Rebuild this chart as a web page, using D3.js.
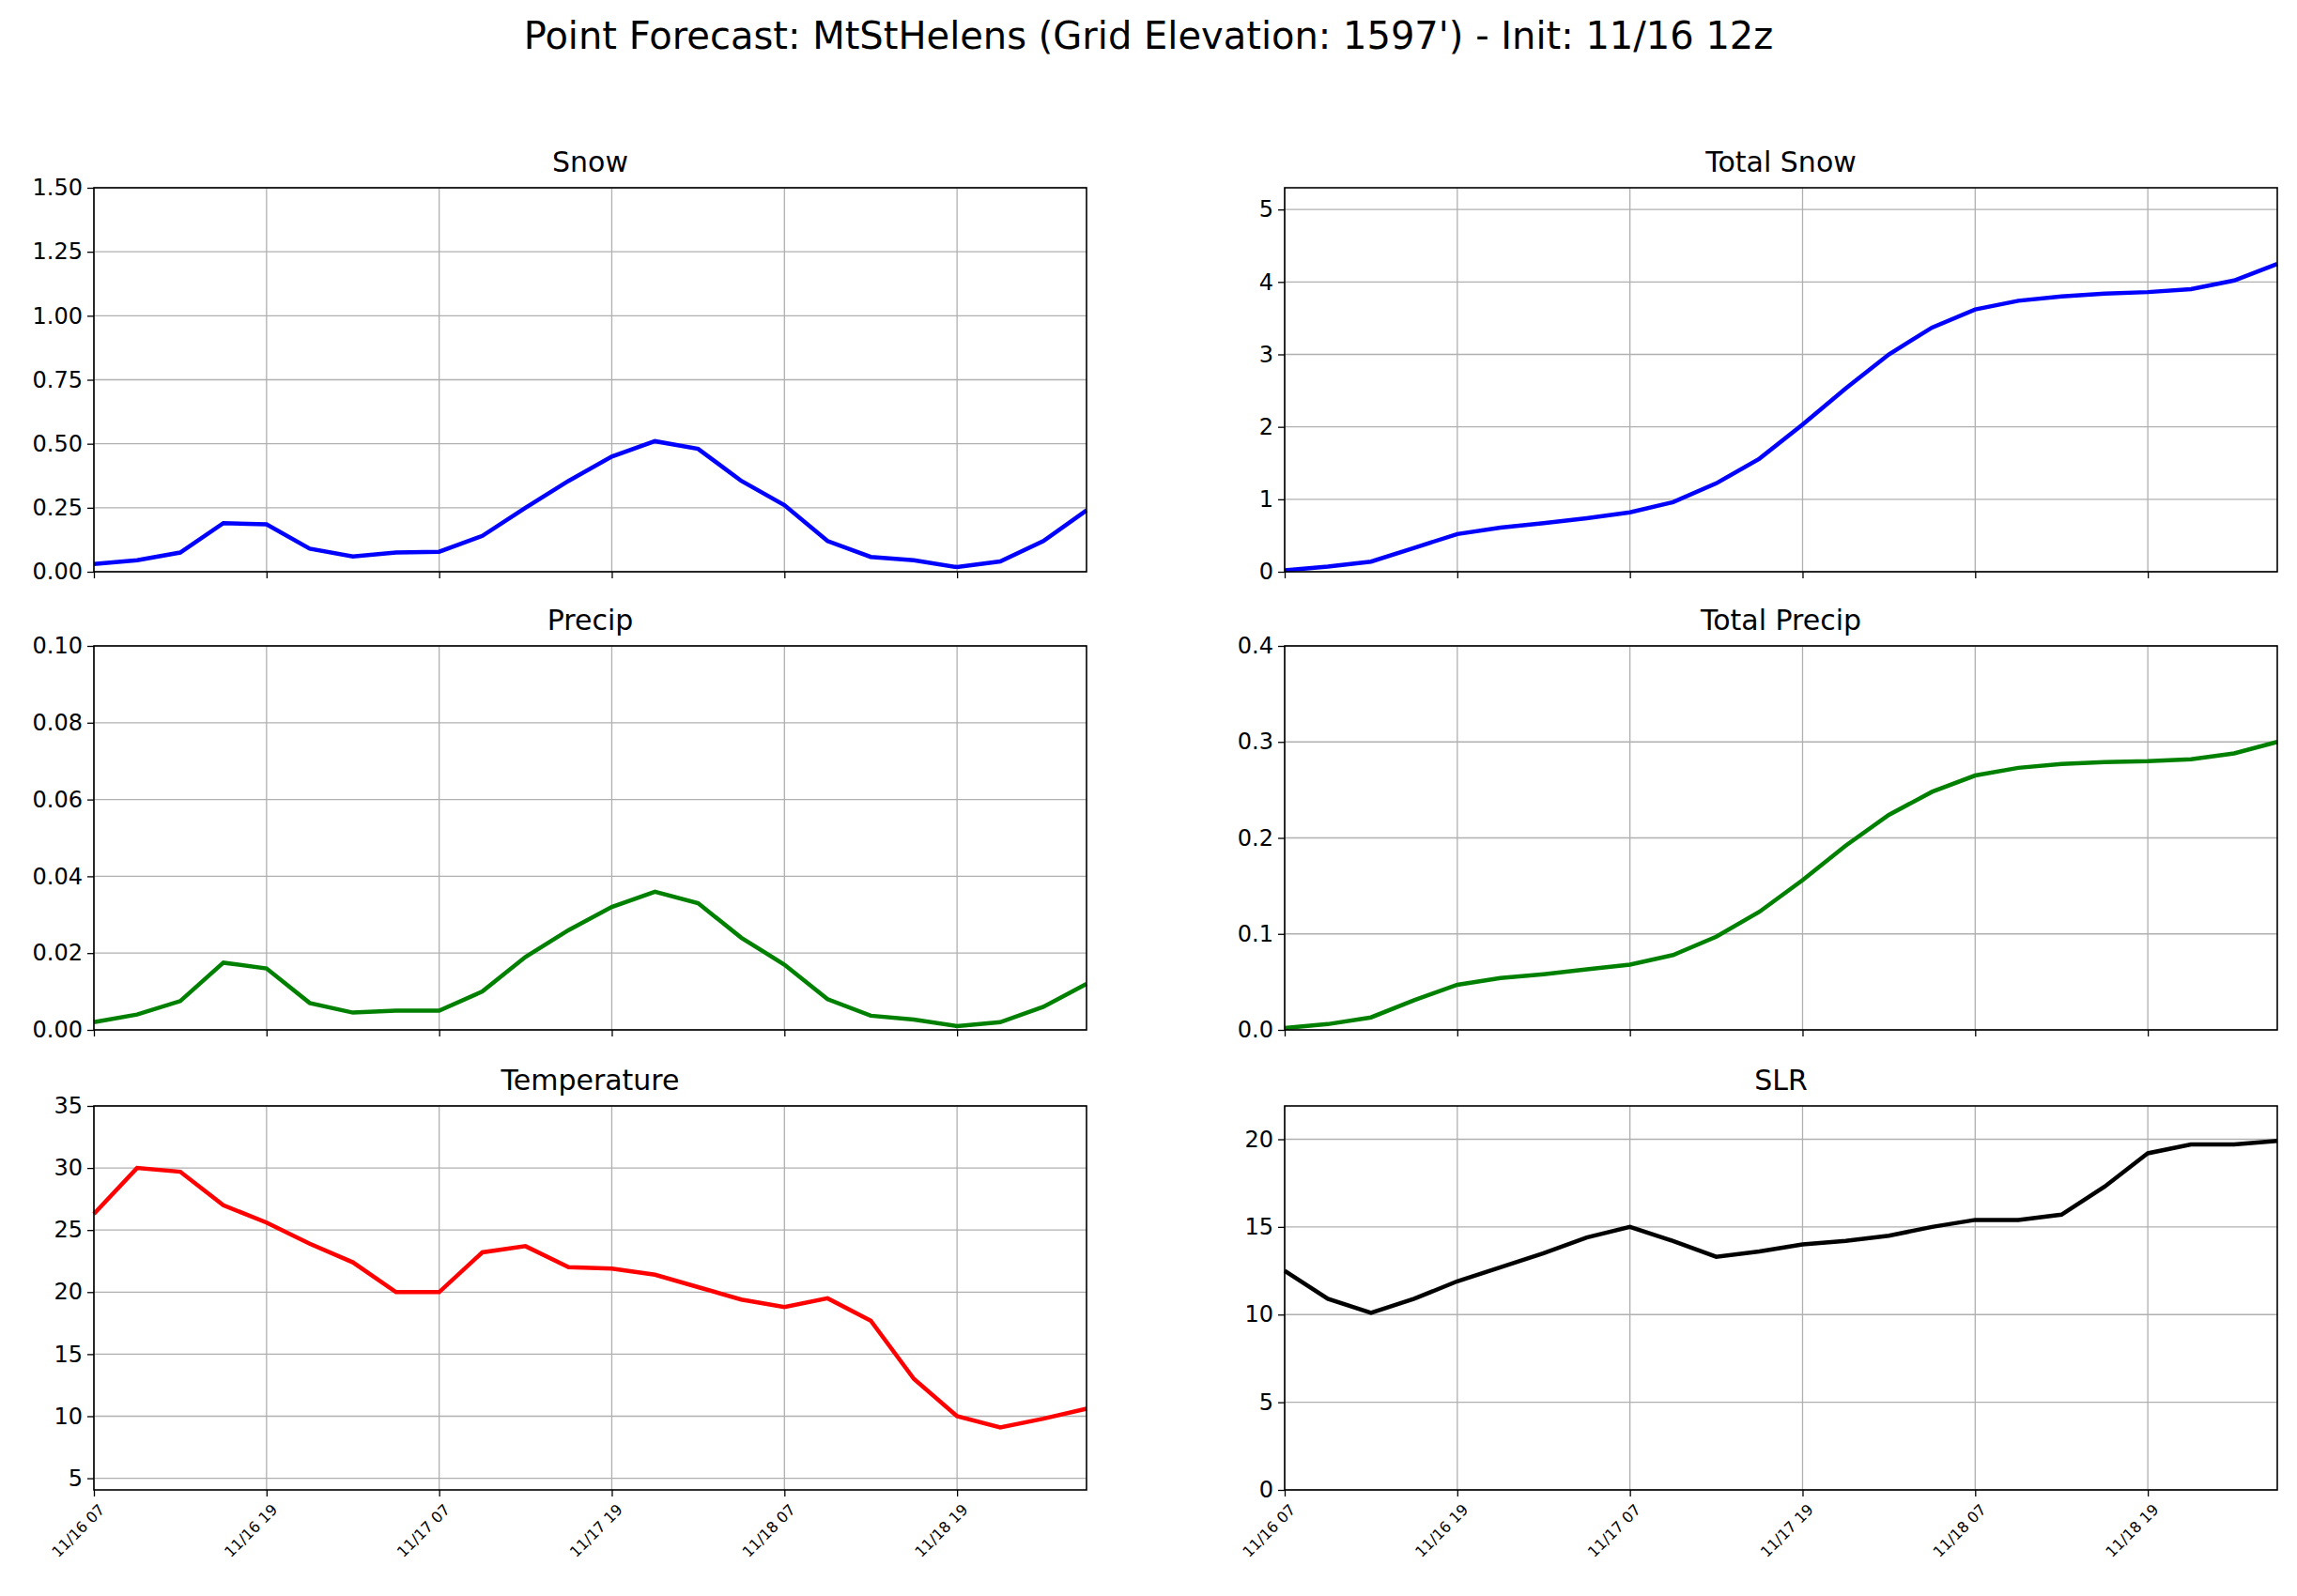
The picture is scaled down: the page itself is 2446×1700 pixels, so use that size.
<!DOCTYPE html>
<html><head><meta charset="utf-8">
<script src="https://cdn.jsdelivr.net/npm/d3@7"></script>
<style>body{margin:0;background:#fff}</style>
</head><body>
<script>
// 3-hourly points from 11/16 07 local
const startTime = new Date(2023, 10, 16, 7);
const hours = d3.range(24).map(i => i * 3);
const snow = [0.03,0.045,0.075,0.19,0.185,0.09,0.06,0.075,0.078,0.14,0.25,0.355,0.45,0.51,0.48,0.355,0.26,0.12,0.058,0.045,0.018,0.04,0.12,0.24];
const totalSnow = [0.02,0.07,0.14,0.33,0.52,0.61,0.67,0.74,0.82,0.96,1.22,1.56,2.03,2.53,3.0,3.37,3.62,3.74,3.80,3.84,3.86,3.90,4.02,4.25];
const precip = [0.002,0.004,0.0075,0.0175,0.016,0.007,0.0045,0.005,0.005,0.010,0.019,0.026,0.032,0.036,0.033,0.024,0.017,0.008,0.0037,0.0027,0.001,0.002,0.006,0.012];
const totalPrecip = [0.002,0.006,0.013,0.031,0.047,0.054,0.058,0.063,0.068,0.078,0.097,0.123,0.156,0.192,0.224,0.248,0.265,0.273,0.277,0.279,0.280,0.282,0.288,0.300];
const temperature = [26.3,30,29.7,27,25.6,23.9,22.4,20,20,23.2,23.7,22,21.9,21.4,20.4,19.4,18.8,19.5,17.7,13,10,9.1,9.8,10.6];
const slr = [12.5,10.9,10.1,10.9,11.9,12.7,13.5,14.4,15.0,14.2,13.3,13.6,14.0,14.2,14.5,15.0,15.4,15.4,15.7,17.3,19.2,19.7,19.7,19.9];
const tickHours = [0, 12, 24, 36, 48, 60];

const W = 2446, H = 1700;
const times = hours.map(h => d3.timeHour.offset(startTime, h));
const tickTimes = tickHours.map(h => d3.timeHour.offset(startTime, h));

const panels = [
  {title: "Snow", data: snow, color: "blue", domain: [0, 1.5], ticks: d3.range(0, 1.51, 0.25), fmt: d3.format(".2f"), col: 0, row: 0},
  {title: "Total Snow", data: totalSnow, color: "blue", domain: [0, 5.3], ticks: d3.range(0, 6), fmt: d3.format("d"), col: 1, row: 0},
  {title: "Precip", data: precip, color: "green", domain: [0, 0.1], ticks: d3.range(0, 0.101, 0.02), fmt: d3.format(".2f"), col: 0, row: 1},
  {title: "Total Precip", data: totalPrecip, color: "green", domain: [0, 0.4], ticks: d3.range(0, 0.41, 0.1), fmt: d3.format(".1f"), col: 1, row: 1},
  {title: "Temperature", data: temperature, color: "red", domain: [4.06, 35], ticks: d3.range(5, 36, 5), fmt: d3.format("d"), col: 0, row: 2},
  {title: "SLR", data: slr, color: "black", domain: [0, 21.9], ticks: d3.range(0, 21, 5), fmt: d3.format("d"), col: 1, row: 2}
];

const colX = [100, 1368], pw = 1057;
const rowY = [200, 688, 1178], ph = 409;

const svg = d3.select("body").append("svg").attr("width", W).attr("height", H)
  .style("font-family", "DejaVu Sans");

svg.append("text").attr("x", W / 2).attr("y", 52).attr("text-anchor", "middle")
  .attr("font-size", 40).text("Point Forecast: MtStHelens (Grid Elevation: 1597') - Init: 11/16 12z");

const fmtTime = d3.timeFormat("%m/%d %H");

panels.forEach(p => {
  const g = svg.append("g").attr("transform", `translate(${colX[p.col]},${rowY[p.row]})`);
  const x = d3.scaleTime().domain([times[0], times[times.length - 1]]).range([0, pw]);
  const y = d3.scaleLinear().domain(p.domain).range([ph, 0]);

  // grid
  g.append("g").selectAll("line").data(tickTimes).join("line")
    .attr("x1", d => x(d)).attr("x2", d => x(d)).attr("y1", 0).attr("y2", ph)
    .attr("stroke", "#b0b0b0").attr("stroke-width", 1.3);
  g.append("g").selectAll("line").data(p.ticks).join("line")
    .attr("x1", 0).attr("x2", pw).attr("y1", d => y(d)).attr("y2", d => y(d))
    .attr("stroke", "#b0b0b0").attr("stroke-width", 1.3);

  g.append("path").datum(p.data)
    .attr("fill", "none").attr("stroke", p.color).attr("stroke-width", 4.5)
    .attr("d", d3.line().x((d, i) => x(times[i])).y(d => y(d)));

  g.append("rect").attr("width", pw).attr("height", ph)
    .attr("fill", "none").attr("stroke", "black").attr("stroke-width", 1.6);

  const ya = g.append("g").call(d3.axisLeft(y).tickValues(p.ticks).tickFormat(p.fmt).tickSize(7).tickPadding(5));
  ya.select(".domain").remove();
  ya.selectAll("text").attr("font-size", 24).attr("font-family", "DejaVu Sans");
  ya.selectAll("line").attr("stroke-width", 1.3);

  const xa = g.append("g").attr("transform", `translate(0,${ph})`)
    .call(d3.axisBottom(x).tickValues(tickTimes).tickFormat(p.row === 2 ? fmtTime : "").tickSize(7));
  xa.select(".domain").remove();
  xa.selectAll("line").attr("stroke-width", 1.3);
  xa.selectAll("text").attr("font-size", 16).attr("font-family", "DejaVu Sans")
    .attr("text-anchor", "end").attr("dy", 0)
    .attr("transform", "translate(5,15) rotate(-45)");

  g.append("text").attr("x", pw / 2).attr("y", -17).attr("text-anchor", "middle")
    .attr("font-size", 30).text(p.title);
});
</script>
</body></html>
